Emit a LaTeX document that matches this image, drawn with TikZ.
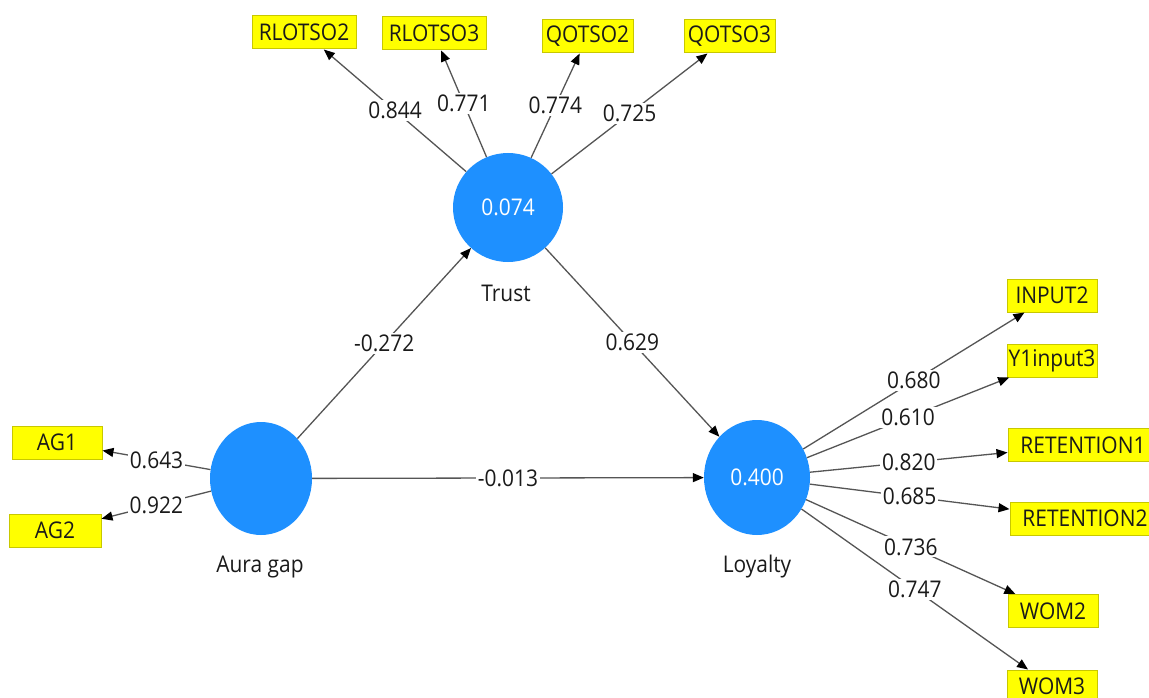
\documentclass[tikz,border=0pt]{standalone}
\usepackage{fontspec}
\setmainfont{Open Sans}[FakeStretch=0.91]
\usetikzlibrary{arrows.meta,shapes.geometric}
\definecolor{lvblue}{HTML}{1E90FF}
\definecolor{boxyellow}{HTML}{FFFF00}
\definecolor{boxedge}{HTML}{C8C800}
\definecolor{edgegray}{HTML}{555555}
\definecolor{txtcol}{HTML}{1A1A1A}
\begin{document}
\begin{tikzpicture}[x=1pt,y=-1pt,
  every node/.style={font=\fontsize{23}{26}\selectfont, text=txtcol},
  latent/.style={ellipse, fill=lvblue, inner sep=0pt, text=white},
  indicator/.style={rectangle, fill=boxyellow, draw=boxedge, line width=1pt,
    minimum height=33pt, inner sep=0pt},
  edge/.style={draw=edgegray, line width=1.3pt,
    -{Triangle[length=11pt,width=9pt,color=black]}},
  lbl/.style={fill=white, inner sep=2pt, midway},
  caption/.style={inner sep=0pt}]
\useasboundingbox (0,0) rectangle (1149,698);
\fill[white] (0,0) rectangle (1149,698);

% latent variables
\node[latent, minimum width=110pt, minimum height=109pt] (trust) at (508,207.5) {0.074};
\node[latent, minimum width=102pt, minimum height=113pt] (aura) at (261,478.5) {};
\node[latent, minimum width=106pt, minimum height=115pt] (loy) at (757,477.5) {0.400};

\node[caption] (trustcap) at (506,293) {Trust};
\node[caption] (auracap) at (260,567) {Aura gap};
\node[caption] (loycap) at (757,567) {Loyalty};

% indicators
\node[indicator, minimum width=104pt] (rl2) at (304,32.5) {RLOTSO2};
\node[indicator, minimum width=104pt] (rl3) at (434,33.5) {RLOTSO3};
\node[indicator, minimum width=91pt] (q2) at (587.5,36.5) {QOTSO2};
\node[indicator, minimum width=91pt] (q3) at (729.5,36.5) {QOTSO3};
\node[indicator, minimum width=90pt] (ag1) at (57,442.5) {AG1};
\node[indicator, minimum width=92pt] (ag2) at (55,530.5) {AG2};
\node[indicator, minimum width=90pt] (in2) at (1052,295.5) {INPUT2};
\node[indicator, minimum width=90pt] (y1) at (1052,360.5) {Y1input3};
\node[indicator, minimum width=150pt] (ret1) at (1083,445) {RETENTION1};
\node[indicator, minimum width=150pt] (ret2) at (1085,518.5) {RETENTION2};
\node[indicator, minimum width=90pt] (wom2) at (1053,611) {WOM2};
\node[indicator, minimum width=90pt] (wom3) at (1052,686.5) {WOM3};

% structural paths
\draw[edge] (aura) -- node[lbl]{-0.272} (trust);
\draw[edge] (trust) -- node[lbl]{0.629} (loy);
\draw[edge] (aura) -- node[lbl]{-0.013} (loy);

% outer loadings
\draw[edge] (trust) -- node[lbl]{0.844} (rl2);
\draw[edge] (trust) -- node[lbl]{0.771} (rl3);
\draw[edge] (trust) -- node[lbl]{0.774} (q2);
\draw[edge] (trust) -- node[lbl]{0.725} (q3);
\draw[edge] (aura) -- node[lbl]{0.643} (ag1);
\draw[edge] (aura) -- node[lbl]{0.922} (ag2);
\draw[edge] (loy) -- node[lbl]{0.680} (in2);
\draw[edge] (loy) -- node[lbl]{0.610} (y1);
\draw[edge] (loy) -- node[lbl]{0.820} (ret1);
\draw[edge] (loy) -- node[lbl]{0.685} (ret2);
\draw[edge] (loy) -- node[lbl]{0.736} (wom2);
\draw[edge] (loy) -- node[lbl]{0.747} (wom3);
\end{tikzpicture}
\end{document}
